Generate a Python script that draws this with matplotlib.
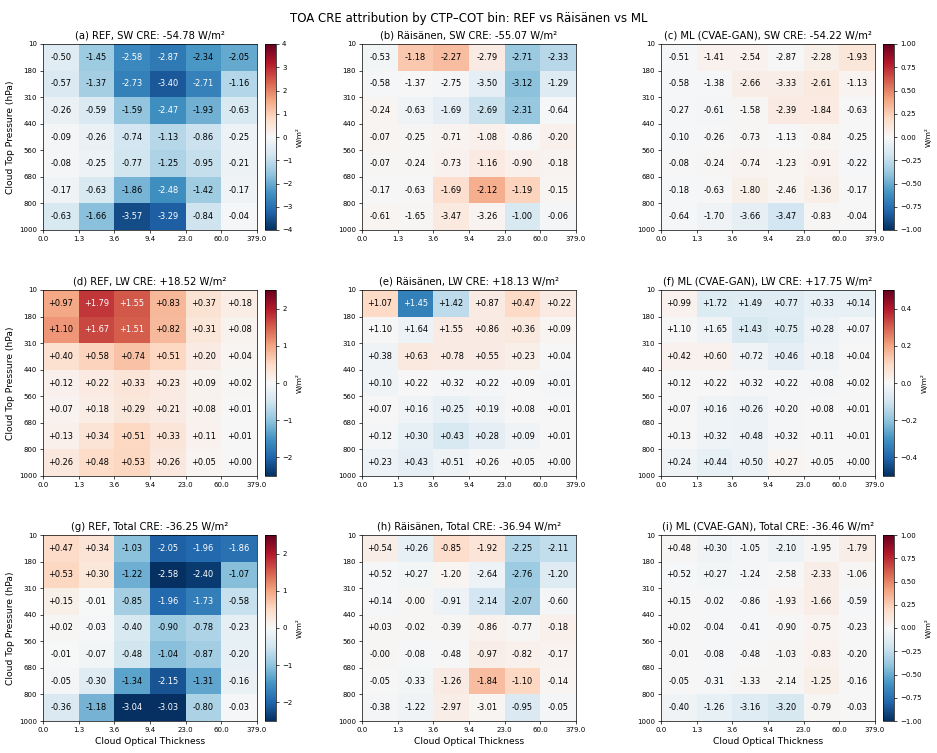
import numpy as np
import matplotlib
matplotlib.use("Agg")
import matplotlib.pyplot as plt
from matplotlib.colors import Normalize

# bin edges
cot_edges = ["0.0", "1.3", "3.6", "9.4", "23.0", "60.0", "379.0"]
ctp_edges = ["10", "180", "310", "440", "560", "680", "800", "1000"]

# SW CRE per bin (rows: CTP from top, cols: COT)
ref_sw = [
    [-0.50, -1.45, -2.58, -2.87, -2.34, -2.05],
    [-0.57, -1.37, -2.73, -3.40, -2.71, -1.16],
    [-0.26, -0.59, -1.59, -2.47, -1.93, -0.63],
    [-0.09, -0.26, -0.74, -1.13, -0.86, -0.25],
    [-0.08, -0.25, -0.77, -1.25, -0.95, -0.21],
    [-0.17, -0.63, -1.86, -2.48, -1.42, -0.17],
    [-0.63, -1.66, -3.57, -3.29, -0.84, -0.04],
]
rai_sw = [
    [-0.53, -1.18, -2.27, -2.79, -2.71, -2.33],
    [-0.58, -1.37, -2.75, -3.50, -3.12, -1.29],
    [-0.24, -0.63, -1.69, -2.69, -2.31, -0.64],
    [-0.07, -0.25, -0.71, -1.08, -0.86, -0.20],
    [-0.07, -0.24, -0.73, -1.16, -0.90, -0.18],
    [-0.17, -0.63, -1.69, -2.12, -1.19, -0.15],
    [-0.61, -1.65, -3.47, -3.26, -1.00, -0.06],
]
ml_sw = [
    [-0.51, -1.41, -2.54, -2.87, -2.28, -1.93],
    [-0.58, -1.38, -2.66, -3.33, -2.61, -1.13],
    [-0.27, -0.61, -1.58, -2.39, -1.84, -0.63],
    [-0.10, -0.26, -0.73, -1.13, -0.84, -0.25],
    [-0.08, -0.24, -0.74, -1.23, -0.91, -0.22],
    [-0.18, -0.63, -1.80, -2.46, -1.36, -0.17],
    [-0.64, -1.70, -3.66, -3.47, -0.83, -0.04],
]

# LW CRE
ref_lw = [
    [0.97, 1.79, 1.55, 0.83, 0.37, 0.18],
    [1.10, 1.67, 1.51, 0.82, 0.31, 0.08],
    [0.40, 0.58, 0.74, 0.51, 0.20, 0.04],
    [0.12, 0.22, 0.33, 0.23, 0.09, 0.02],
    [0.07, 0.18, 0.29, 0.21, 0.08, 0.01],
    [0.13, 0.34, 0.51, 0.33, 0.11, 0.01],
    [0.26, 0.48, 0.53, 0.26, 0.05, 0.00],
]
rai_lw = [
    [1.07, 1.45, 1.42, 0.87, 0.47, 0.22],
    [1.10, 1.64, 1.55, 0.86, 0.36, 0.09],
    [0.38, 0.63, 0.78, 0.55, 0.23, 0.04],
    [0.10, 0.22, 0.32, 0.22, 0.09, 0.01],
    [0.07, 0.16, 0.25, 0.19, 0.08, 0.01],
    [0.12, 0.30, 0.43, 0.28, 0.09, 0.01],
    [0.23, 0.43, 0.51, 0.26, 0.05, 0.00],
]
ml_lw = [
    [0.99, 1.72, 1.49, 0.77, 0.33, 0.14],
    [1.10, 1.65, 1.43, 0.75, 0.28, 0.07],
    [0.42, 0.60, 0.72, 0.46, 0.18, 0.04],
    [0.12, 0.22, 0.32, 0.22, 0.08, 0.02],
    [0.07, 0.16, 0.26, 0.20, 0.08, 0.01],
    [0.13, 0.32, 0.48, 0.32, 0.11, 0.01],
    [0.24, 0.44, 0.50, 0.27, 0.05, 0.00],
]

# Total CRE
ref_tot = [
    [0.47, 0.34, -1.03, -2.05, -1.96, -1.86],
    [0.53, 0.30, -1.22, -2.58, -2.40, -1.07],
    [0.15, -0.01, -0.85, -1.96, -1.73, -0.58],
    [0.02, -0.03, -0.40, -0.90, -0.78, -0.23],
    [-0.01, -0.07, -0.48, -1.04, -0.87, -0.20],
    [-0.05, -0.30, -1.34, -2.15, -1.31, -0.16],
    [-0.36, -1.18, -3.04, -3.03, -0.80, -0.03],
]
rai_tot = [
    [0.54, 0.26, -0.85, -1.92, -2.25, -2.11],
    [0.52, 0.27, -1.20, -2.64, -2.76, -1.20],
    [0.14, -0.0, -0.91, -2.14, -2.07, -0.60],
    [0.03, -0.02, -0.39, -0.86, -0.77, -0.18],
    [-0.0, -0.08, -0.48, -0.97, -0.82, -0.17],
    [-0.05, -0.33, -1.26, -1.84, -1.10, -0.14],
    [-0.38, -1.22, -2.97, -3.01, -0.95, -0.05],
]
ml_tot = [
    [0.48, 0.30, -1.05, -2.10, -1.95, -1.79],
    [0.52, 0.27, -1.24, -2.58, -2.33, -1.06],
    [0.15, -0.02, -0.86, -1.93, -1.66, -0.59],
    [0.02, -0.04, -0.41, -0.90, -0.75, -0.23],
    [-0.01, -0.08, -0.48, -1.03, -0.83, -0.20],
    [-0.05, -0.31, -1.33, -2.14, -1.25, -0.16],
    [-0.40, -1.26, -3.16, -3.20, -0.79, -0.03],
]

# global means (W/m2)
totals = {
    "SW": [-54.78, -55.07, -54.22],
    "LW": [18.52, 18.13, 17.75],
    "Total": [-36.25, -36.94, -36.46],
}
components = ["SW", "LW", "Total"]
models = ["REF", "Räisänen", "ML (CVAE-GAN)"]
fields = {
    "SW": [ref_sw, rai_sw, ml_sw],
    "LW": [ref_lw, rai_lw, ml_lw],
    "Total": [ref_tot, rai_tot, ml_tot],
}
ref_lim = {"SW": 4.0, "LW": 2.5, "Total": 2.5}
diff_lim = {"SW": 1.0, "LW": 0.5, "Total": 1.0}

W, H = 937, 753
fig = plt.figure(figsize=(W / 62.5, H / 62.5), dpi=62.5)
cmap = plt.get_cmap("RdBu_r")

col_left = [43, 362, 661]
cbar_left = {0: 265, 2: 883}
row_top = [44, 290, 535]
ax_w, ax_h, cb_w = 214, 186, 11

letters = "abcdefghi"
for i, comp in enumerate(components):
    ref = np.array(fields[comp][0])
    for j in range(3):
        vals = np.array(fields[comp][j])
        if j == 0:
            cvals = vals
            lim = ref_lim[comp]
        else:
            # Räisänen / ML panels are shaded by their difference from REF
            cvals = vals - ref
            lim = diff_lim[comp]
        norm = Normalize(-lim, lim)
        ax = fig.add_axes([col_left[j] / W, 1 - (row_top[i] + ax_h) / H,
                           ax_w / W, ax_h / H])
        mesh = ax.pcolormesh(np.arange(7), np.arange(8), cvals, cmap=cmap, norm=norm)
        ax.set_xlim(0, 6)
        ax.set_ylim(7, 0)
        ax.set_xticks(np.arange(7))
        ax.set_xticklabels(cot_edges, fontsize=8)
        ax.set_yticks(np.arange(8))
        ax.set_yticklabels(ctp_edges, fontsize=8)
        for r in range(7):
            for c in range(6):
                color = "white" if abs(cvals[r, c]) > 0.6 * lim else "black"
                ax.text(c + 0.5, r + 0.5, f"{vals[r, c]:+.2f}", ha="center",
                        va="center", fontsize=9.5, color=color)
        tot = totals[comp][j]
        ax.set_title(f"({letters[3 * i + j]}) {models[j]}, {comp} CRE: {tot:+.2f} W/m²",
                     fontsize=11.5)
        if j == 0:
            ax.set_ylabel("Cloud Top Pressure (hPa)", fontsize=10.5)
        if i == 2:
            ax.set_xlabel("Cloud Optical Thickness", fontsize=10.5)
        if j in cbar_left:
            cax = fig.add_axes([cbar_left[j] / W, 1 - (row_top[i] + ax_h) / H,
                                cb_w / W, ax_h / H])
            cb = fig.colorbar(mesh, cax=cax)
            cb.ax.tick_params(labelsize=8)
            cb.set_label("W/m²", fontsize=8.5)

fig.suptitle("TOA CRE attribution by CTP–COT bin: REF vs Räisänen vs ML",
             fontsize=13.5, y=1 - 12 / H)
fig.savefig("out.png", dpi=62.5)
